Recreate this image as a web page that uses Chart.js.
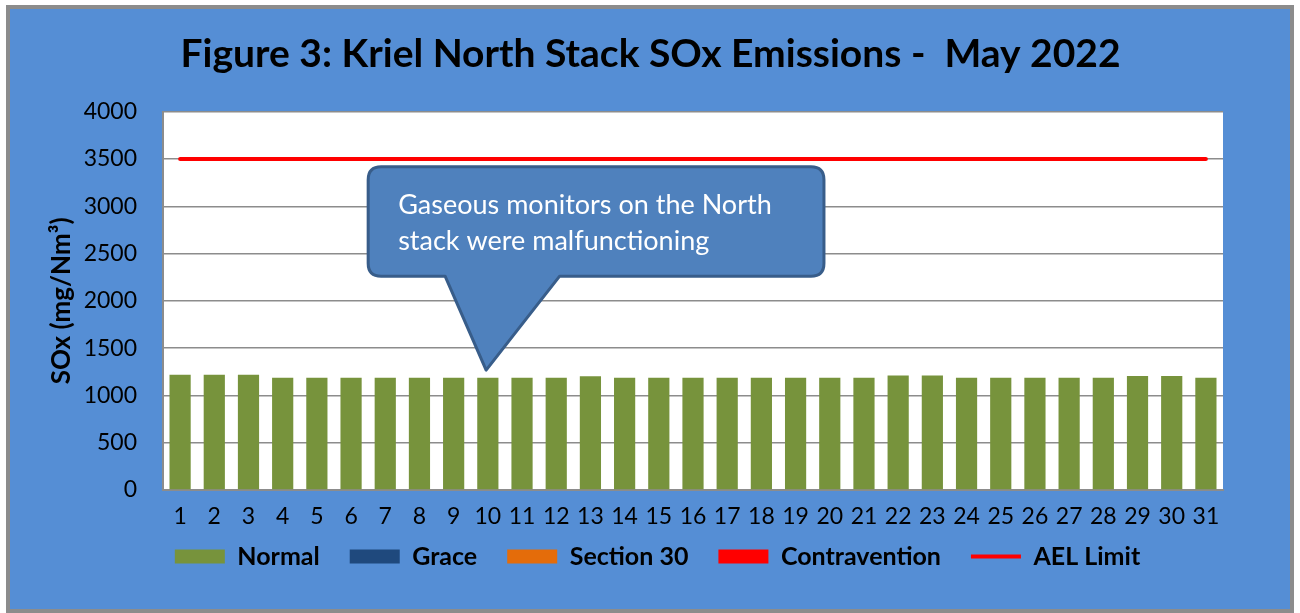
<!DOCTYPE html>
<html>
<head>
<meta charset="utf-8">
<script src="https://cdn.jsdelivr.net/npm/chart.js@4.4.1/dist/chart.umd.min.js"></script>
<style>
  html, body { margin: 0; padding: 0; background: #fff; }
  #frame {
    position: absolute; left: 6px; top: 5px;
    width: 1280px; height: 600px;
    border: 4px solid #8c8c8c; background: #558ed5;
  }
  #frame canvas { display: block; }
</style>
</head>
<body>
<div id="frame"><canvas id="soxChart" width="1280" height="600"></canvas></div>
<script>
/* ── DATA ─────────────────────────────────── */
const days = ['1','2','3','4','5','6','7','8','9','10','11','12','13','14','15','16',
              '17','18','19','20','21','22','23','24','25','26','27','28','29','30','31'];
const normal = [1220,1220,1220,1188,1188,1188,1188,1188,1188,1188,1188,1188,1202,1188,1188,1188,
                1188,1188,1188,1188,1188,1210,1210,1188,1188,1188,1188,1188,1207,1207,1188];
const grace         = [0,0,0,0,0,0,0,0,0,0,0,0,0,0,0,0,0,0,0,0,0,0,0,0,0,0,0,0,0,0,0];
const section30     = [0,0,0,0,0,0,0,0,0,0,0,0,0,0,0,0,0,0,0,0,0,0,0,0,0,0,0,0,0,0,0];
const contravention = [0,0,0,0,0,0,0,0,0,0,0,0,0,0,0,0,0,0,0,0,0,0,0,0,0,0,0,0,0,0,0];
const aelLimit = [3500,3500,3500,3500,3500,3500,3500,3500,3500,3500,3500,3500,3500,3500,3500,3500,
                  3500,3500,3500,3500,3500,3500,3500,3500,3500,3500,3500,3500,3500,3500,3500];
const yTicks = [0, 500, 1000, 1500, 2000, 2500, 3000, 3500, 4000];

const FONT = 'Lato, "Open Sans", sans-serif';

/* callout: box in (category index, value) space, tip points at day 10 */
const callout = {
  lines: ['Gaseous monitors on the North', 'stack were malfunctioning'],
  box: { x0: 5.5, x1: 18.83, y0: 3418, y1: 2262 },
  base: { x0: 7.75, x1: 11.1 },
  tip: { x: 8.95, y: 1268 }
};

/* ── PLUGINS ──────────────────────────────── */
const plotBg = {
  id: 'plotBg',
  beforeDraw(chart) {
    const { ctx, chartArea: a } = chart;
    ctx.save();
    ctx.fillStyle = '#ffffff';
    ctx.fillRect(a.left, a.top, a.right - a.left, a.bottom - a.top);
    ctx.restore();
  }
};

// right padding keeps the plot off the edge, but title/legend should sit centred on the frame
const nudgeBoxes = {
  id: 'nudgeBoxes',
  afterLayout(chart) {
    const t = chart.titleBlock, lg = chart.legend;
    if (t) { t.left += 34; t.right += 34; }
    if (lg) { lg.left += 41; lg.right += 41; lg.top -= 16; lg.bottom -= 16; }
  }
};

const calloutPlugin = {
  id: 'callout',
  afterDatasetsDraw(chart) {
    const { ctx } = chart;
    const xs = chart.scales.x, ys = chart.scales.y;
    const L = xs.getPixelForValue(callout.box.x0), R = xs.getPixelForValue(callout.box.x1);
    const T = ys.getPixelForValue(callout.box.y0), B = ys.getPixelForValue(callout.box.y1);
    const bL = xs.getPixelForValue(callout.base.x0), bR = xs.getPixelForValue(callout.base.x1);
    const tx = xs.getPixelForValue(callout.tip.x), ty = ys.getPixelForValue(callout.tip.y);
    const r = 13;
    ctx.save();
    ctx.beginPath();
    ctx.moveTo(L + r, T);
    ctx.lineTo(R - r, T);
    ctx.quadraticCurveTo(R, T, R, T + r);
    ctx.lineTo(R, B - r);
    ctx.quadraticCurveTo(R, B, R - r, B);
    ctx.lineTo(bR, B);
    ctx.lineTo(tx, ty);
    ctx.lineTo(bL, B);
    ctx.lineTo(L + r, B);
    ctx.quadraticCurveTo(L, B, L, B - r);
    ctx.lineTo(L, T + r);
    ctx.quadraticCurveTo(L, T, L + r, T);
    ctx.closePath();
    ctx.fillStyle = '#4f81bd';
    ctx.fill();
    ctx.lineWidth = 3;
    ctx.strokeStyle = '#385d8a';
    ctx.lineJoin = 'round';
    ctx.stroke();

    ctx.fillStyle = '#ffffff';
    ctx.font = '27px ' + FONT;
    ctx.textBaseline = 'alphabetic';
    ctx.textAlign = 'left';
    callout.lines.forEach((t, i) => ctx.fillText(t, L + 30, T + 47 + i * 36));
    ctx.restore();
  }
};

/* ── CHART ────────────────────────────────── */
const barDefaults = { type: 'bar', grouped: false, barPercentage: 0.62, categoryPercentage: 1.0,
                      borderWidth: 0, pointStyle: 'rect' };

new Chart(document.getElementById('soxChart'), {
  data: {
    labels: days,
    datasets: [
      { ...barDefaults, label: 'Normal',        data: normal,        backgroundColor: '#77933c' },
      { ...barDefaults, label: 'Grace',         data: grace,         backgroundColor: '#1f497d' },
      { ...barDefaults, label: 'Section 30',    data: section30,     backgroundColor: '#e46c0a' },
      { ...barDefaults, label: 'Contravention', data: contravention, backgroundColor: '#ff0000' },
      { type: 'line', label: 'AEL Limit', data: aelLimit, borderColor: '#ff0000', backgroundColor: '#ff0000',
        borderWidth: 4, borderCapStyle: 'round', pointRadius: 0, pointStyle: 'line' }
    ]
  },
  options: {
    responsive: false,
    animation: false,
    layout: { padding: { left: 0, right: 67, top: 0, bottom: 14 } },
    plugins: {
      title: {
        display: true,
        text: 'Figure 3: Kriel North Stack SOx Emissions -  May 2022',
        color: '#000',
        font: { family: FONT, size: 39, weight: 'bold' },
        padding: { top: 22, bottom: 34 }
      },
      legend: {
        position: 'bottom',
        labels: {
          usePointStyle: true,
          pointStyleWidth: 50,
          boxHeight: 14,
          padding: 30,
          color: '#000',
          font: { family: FONT, size: 25, weight: 'bold' }
        }
      },
      tooltip: { enabled: false }
    },
    scales: {
      x: {
        offset: true,
        grid: { display: false, drawTicks: false },
        border: { display: true, color: '#8c8c8c', width: 2 },
        ticks: { color: '#000', padding: 13, maxRotation: 0, autoSkip: false,
                 font: { family: FONT, size: 23 } },
        afterFit(s) { s.height = 40; }
      },
      y: {
        min: 0, max: 4000,
        afterBuildTicks(s) { s.ticks = yTicks.map(v => ({ value: v })); },
        grid: { color: '#8c8c8c', lineWidth: 1.5, drawTicks: false },
        border: { display: true, color: '#8c8c8c', width: 2 },
        ticks: { color: '#000', padding: 26, font: { family: FONT, size: 23 },
                 callback: v => String(v) },
        title: { display: true, text: 'SOx (mg/Nm³)', color: '#000',
                 font: { family: FONT, size: 26, weight: 'bold' }, padding: { top: 36, bottom: 0 } },
        afterFit(s) { s.width = 153; }
      }
    }
  },
  plugins: [plotBg, nudgeBoxes, calloutPlugin]
});
</script>
</body>
</html>
